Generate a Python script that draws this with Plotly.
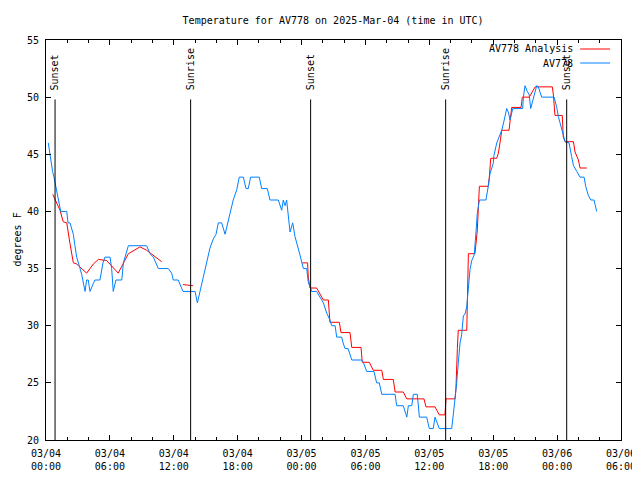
import plotly.graph_objects as go

# Observed AV778 temperature (degrees F)
obs_time = [
    "2025-03-04 00:13", "2025-03-04 00:22", "2025-03-04 00:37", "2025-03-04 00:45", "2025-03-04 01:09",
    "2025-03-04 01:23", "2025-03-04 01:57", "2025-03-04 02:04", "2025-03-04 02:15", "2025-03-04 02:34",
    "2025-03-04 02:43", "2025-03-04 02:53", "2025-03-04 03:12", "2025-03-04 03:21", "2025-03-04 03:40",
    "2025-03-04 03:49", "2025-03-04 03:58", "2025-03-04 04:08", "2025-03-04 04:27", "2025-03-04 04:36",
    "2025-03-04 05:04", "2025-03-04 05:21", "2025-03-04 05:32", "2025-03-04 06:01", "2025-03-04 06:10",
    "2025-03-04 06:19", "2025-03-04 06:34", "2025-03-04 07:07", "2025-03-04 07:16", "2025-03-04 07:35",
    "2025-03-04 07:44", "2025-03-04 09:27", "2025-03-04 09:46", "2025-03-04 10:05", "2025-03-04 10:33",
    "2025-03-04 11:29", "2025-03-04 11:48", "2025-03-04 11:57", "2025-03-04 12:25", "2025-03-04 12:52",
    "2025-03-04 14:00", "2025-03-04 14:13", "2025-03-04 14:28", "2025-03-04 14:46", "2025-03-04 15:05",
    "2025-03-04 15:24", "2025-03-04 15:43", "2025-03-04 15:58", "2025-03-04 16:11", "2025-03-04 16:30",
    "2025-03-04 16:49", "2025-03-04 17:17", "2025-03-04 17:35", "2025-03-04 17:55", "2025-03-04 18:09",
    "2025-03-04 18:32", "2025-03-04 18:47", "2025-03-04 19:00", "2025-03-04 19:13", "2025-03-04 20:02",
    "2025-03-04 20:15", "2025-03-04 20:47", "2025-03-04 21:02", "2025-03-04 21:49", "2025-03-04 22:08",
    "2025-03-04 22:17", "2025-03-04 22:27", "2025-03-04 22:36", "2025-03-04 22:55", "2025-03-04 23:10",
    "2025-03-04 23:23", "2025-03-04 23:51",
    "2025-03-05 00:10", "2025-03-05 00:29", "2025-03-05 00:38", "2025-03-05 00:57", "2025-03-05 01:25",
    "2025-03-05 01:44", "2025-03-05 02:03", "2025-03-05 02:22", "2025-03-05 02:40", "2025-03-05 02:50",
    "2025-03-05 03:09", "2025-03-05 03:18", "2025-03-05 03:46", "2025-03-05 03:54", "2025-03-05 04:05",
    "2025-03-05 04:22", "2025-03-05 04:43", "2025-03-05 05:39", "2025-03-05 05:48", "2025-03-05 06:07",
    "2025-03-05 06:48", "2025-03-05 07:03", "2025-03-05 07:18", "2025-03-05 07:32", "2025-03-05 08:47",
    "2025-03-05 08:56", "2025-03-05 09:33", "2025-03-05 09:53", "2025-03-05 10:02", "2025-03-05 10:21",
    "2025-03-05 10:30", "2025-03-05 10:52", "2025-03-05 11:04", "2025-03-05 11:45", "2025-03-05 12:00",
    "2025-03-05 12:22", "2025-03-05 12:32", "2025-03-05 12:56", "2025-03-05 14:06", "2025-03-05 14:15",
    "2025-03-05 14:25", "2025-03-05 14:34", "2025-03-05 14:43", "2025-03-05 14:53", "2025-03-05 15:02",
    "2025-03-05 15:12", "2025-03-05 15:21", "2025-03-05 15:31", "2025-03-05 15:40", "2025-03-05 15:49",
    "2025-03-05 15:59", "2025-03-05 16:13", "2025-03-05 16:23", "2025-03-05 16:30", "2025-03-05 16:42",
    "2025-03-05 17:19", "2025-03-05 17:32", "2025-03-05 17:42", "2025-03-05 18:00", "2025-03-05 18:04",
    "2025-03-05 18:20", "2025-03-05 18:34", "2025-03-05 18:48", "2025-03-05 19:02", "2025-03-05 19:16",
    "2025-03-05 19:25", "2025-03-05 19:35", "2025-03-05 19:50", "2025-03-05 20:46", "2025-03-05 20:50",
    "2025-03-05 20:59", "2025-03-05 21:12", "2025-03-05 21:23", "2025-03-05 21:31", "2025-03-05 21:42",
    "2025-03-05 21:56", "2025-03-05 22:05", "2025-03-05 22:14", "2025-03-05 22:33", "2025-03-05 23:43",
    "2025-03-05 23:58",
    "2025-03-06 00:07", "2025-03-06 00:20", "2025-03-06 00:31", "2025-03-06 00:45", "2025-03-06 01:07",
    "2025-03-06 01:13", "2025-03-06 01:22", "2025-03-06 01:32", "2025-03-06 01:41", "2025-03-06 01:51",
    "2025-03-06 02:09", "2025-03-06 02:32", "2025-03-06 02:41", "2025-03-06 02:47", "2025-03-06 02:56",
    "2025-03-06 03:10", "2025-03-06 03:28", "2025-03-06 03:34", "2025-03-06 03:43",
]
obs_temp = [
    46, 45, 43.5, 43, 41,
    40, 40, 39, 39, 38,
    37, 36, 35, 34.5, 33,
    34, 34, 33, 33.7, 34,
    34, 35.5, 36, 36, 35,
    33, 34, 34, 35.5, 36.6,
    37, 37, 36.3, 36, 35,
    35, 34.6, 34, 34, 33,
    33, 32, 33, 34.3, 35.5,
    36.8, 37.6, 38, 39, 39,
    38, 39.8, 41, 41.9, 43,
    43, 42, 42, 43, 43,
    42, 42, 41, 41, 40.1,
    41, 40.5, 41, 38.2, 39,
    37.8, 36.2,
    35, 35, 33.8, 33, 33,
    32.5, 32, 31.1, 30.5, 30,
    30, 29, 29, 28.5, 28,
    28, 27, 27, 26.8, 26,
    26, 25, 25, 24, 24,
    23, 23, 22, 23, 23,
    24, 24, 22, 22, 21,
    21, 22, 21, 21, 22.2,
    23.5, 25, 26.7, 28.5, 29.2,
    30.9, 31, 31.7, 33.3, 34.9,
    35.7, 36.2, 38.2, 39.8, 41,
    41, 42.2, 43.3, 44.2, 44.9,
    46, 46.5, 47.1, 48, 49,
    48.7, 48, 49, 49, 50,
    51, 50.5, 50.2, 49, 49.6,
    50.3, 51, 50.9, 50, 50,
    49.1,
    48.3, 47.5, 46.9, 46.1, 46,
    45.4, 44.8, 44, 43.8, 43.5,
    43, 43, 42.2, 41.8, 41.4,
    41, 41, 40.6, 40,
]

# Analysis series (None marks gaps)
ana_time = [
    "2025-03-04 00:38", "2025-03-04 00:51", "2025-03-04 01:08", "2025-03-04 01:19", "2025-03-04 01:37",
    "2025-03-04 01:57", "2025-03-04 02:15", "2025-03-04 02:34", "2025-03-04 02:53", "2025-03-04 03:49",
    "2025-03-04 04:27", "2025-03-04 04:55", "2025-03-04 05:42", "2025-03-04 06:10", "2025-03-04 06:47",
    "2025-03-04 07:44", "2025-03-04 08:50", "2025-03-04 09:27", "2025-03-04 10:14", "2025-03-04 10:52",
    "2025-03-04 11:50",
    "2025-03-04 12:52", "2025-03-04 13:48",
    "2025-03-04 18:00",
    "2025-03-05 00:04", "2025-03-05 00:34", "2025-03-05 00:38", "2025-03-05 00:48", "2025-03-05 01:25",
    "2025-03-05 02:03", "2025-03-05 02:31", "2025-03-05 02:40", "2025-03-05 03:33", "2025-03-05 03:42",
    "2025-03-05 04:33", "2025-03-05 04:43", "2025-03-05 05:35", "2025-03-05 05:42", "2025-03-05 06:22",
    "2025-03-05 06:44", "2025-03-05 07:32", "2025-03-05 07:41", "2025-03-05 08:37", "2025-03-05 08:47",
    "2025-03-05 09:33", "2025-03-05 09:53", "2025-03-05 11:30", "2025-03-05 11:41", "2025-03-05 12:32",
    "2025-03-05 12:56", "2025-03-05 13:28", "2025-03-05 13:34", "2025-03-05 14:25", "2025-03-05 14:30",
    "2025-03-05 14:38", "2025-03-05 14:43", "2025-03-05 15:31", "2025-03-05 15:34", "2025-03-05 15:40",
    "2025-03-05 16:17", "2025-03-05 16:23", "2025-03-05 16:30", "2025-03-05 16:42", "2025-03-05 17:32",
    "2025-03-05 17:38", "2025-03-05 17:46", "2025-03-05 18:20", "2025-03-05 18:29", "2025-03-05 18:38",
    "2025-03-05 18:48", "2025-03-05 19:29", "2025-03-05 19:35", "2025-03-05 19:44", "2025-03-05 20:37",
    "2025-03-05 20:44", "2025-03-05 21:23", "2025-03-05 21:37", "2025-03-05 21:56", "2025-03-05 23:33",
    "2025-03-05 23:39", "2025-03-05 23:48",
    "2025-03-06 00:29", "2025-03-06 00:35", "2025-03-06 00:45", "2025-03-06 01:32", "2025-03-06 01:41",
    "2025-03-06 02:00", "2025-03-06 02:09", "2025-03-06 02:47",
]
ana_temp = [
    41.5, 41, 40.5, 40.1, 39.1,
    39, 37.2, 35.5, 35.4, 34.6,
    35.4, 35.8, 35.7, 35.2, 34.6,
    36.3, 36.9, 36.6, 36.0, 35.6,
    None,
    33.6, 33.5,
    None,
    35.5, 35.5, 34.2, 33.3, 33.3,
    32.25, 32.25, 30.3, 30.3, 29.4,
    29.4, 28.1, 28.1, 26.8, 26.8,
    26.1, 26.1, 25.3, 25.3, 24.2,
    24.2, 23.6, 23.6, 22.9, 22.9,
    22.2, 22.2, 23.6, 23.6, 24.5,
    28.0, 29.6, 29.6, 32.8, 36.3,
    36.3, 37.1, 38.3, 42.2, 42.2,
    43, 44.65, 44.65, 45.1, 46,
    47.1, 47.1, 47.9, 49.1, 49.1,
    50.0, 50.0, 50.4, 50.9, 50.9,
    50.2, 48.4,
    48.4, 46.5, 46.1, 46.1, 45.2,
    44.5, 43.8, 43.8,
]

event_time = ["2025-03-04 00:51", "2025-03-04 13:35", "2025-03-05 00:51",
              "2025-03-05 13:32", "2025-03-06 00:54"]
event_label = ["Sunset", "Sunrise", "Sunset", "Sunrise", "Sunset"]

x_tick_vals = ["2025-03-04 00:00", "2025-03-04 06:00", "2025-03-04 12:00", "2025-03-04 18:00",
               "2025-03-05 00:00", "2025-03-05 06:00", "2025-03-05 12:00", "2025-03-05 18:00",
               "2025-03-06 00:00", "2025-03-06 06:00"]
x_tick_text = ["03/04<br>00:00", "03/04<br>06:00", "03/04<br>12:00", "03/04<br>18:00",
               "03/05<br>00:00", "03/05<br>06:00", "03/05<br>12:00", "03/05<br>18:00",
               "03/06<br>00:00", "03/06<br>06:00"]
y_tick_vals = [20, 25, 30, 35, 40, 45, 50, 55]

series_names = ["AV778 Analysis", "AV778"]
series_colors = ["#ff0000", "#0080ff"]

FONT = "DejaVu Sans Mono"

fig = go.Figure()
fig.add_trace(go.Scatter(x=ana_time, y=ana_temp, mode="lines", name=series_names[0],
                         line=dict(color=series_colors[0], width=1), connectgaps=False))
fig.add_trace(go.Scatter(x=obs_time, y=obs_temp, mode="lines", name=series_names[1],
                         line=dict(color=series_colors[1], width=1)))

shapes = []
annotations = []
for t, lab in zip(event_time, event_label):
    shapes.append(dict(type="line", xref="x", yref="y", x0=t, x1=t, y0=20, y1=49.8,
                       line=dict(color="black", width=1)))
    annotations.append(dict(x=t, y=50.4, xref="x", yref="y", text=lab, textangle=-90,
                            showarrow=False, xanchor="center", yanchor="bottom",
                            font=dict(family=FONT, size=10, color="black")))

# manual legend (text right-aligned, sample line on the right)
leg_y = [0.9775, 0.9425]
for name, col, yy in zip(series_names, series_colors, leg_y):
    annotations.append(dict(x=0.920, y=yy, xref="paper", yref="paper", text=name,
                            showarrow=False, xanchor="right", yanchor="middle",
                            font=dict(family=FONT, size=10, color="black")))
    shapes.append(dict(type="line", xref="paper", yref="paper", x0=0.929, x1=0.981,
                       y0=yy, y1=yy, line=dict(color=col, width=1)))

# y-axis title as a rotated annotation (left edge at the figure's left edge)
annotations.append(dict(x=-37 / 575.0, y=0.5, xref="paper", yref="paper", text="degrees F",
                        textangle=-90, showarrow=False, xanchor="left", yanchor="middle",
                        font=dict(family=FONT, size=10, color="black")))

# page body adds an 8px offset; margins compensate so the plot box sits at 46..621 x 40..440
fig.update_layout(
    width=640, height=480,
    margin=dict(l=38, r=27, t=32, b=48, autoexpand=False),
    paper_bgcolor="white", plot_bgcolor="white",
    font=dict(family=FONT, size=10, color="black"),
    showlegend=False,
    title=dict(text="Temperature for AV778 on 2025-Mar-04 (time in UTC)",
               x=0.508, xanchor="center", y=0.975, yanchor="middle",
               font=dict(family=FONT, size=10, color="black")),
    shapes=shapes, annotations=annotations,
)
fig.update_xaxes(
    type="date", range=["2025-03-04 00:00", "2025-03-06 06:00"], automargin=False,
    tickmode="array", tickvals=x_tick_vals, ticktext=x_tick_text,
    ticks="inside", ticklen=5, tickcolor="black", tickwidth=1, ticklabelstandoff=4,
    showline=True, linecolor="black", linewidth=1, mirror="allticks",
    showgrid=False, zeroline=False,
    tickfont=dict(family=FONT, size=10, color="black"),
    minor=dict(ticks="inside", ticklen=3, tickcolor="black", tickwidth=1,
               dtick=2 * 3600 * 1000, tick0="2025-03-04 00:00", showgrid=False),
)
fig.update_yaxes(
    range=[20, 55], tickmode="array", tickvals=y_tick_vals, automargin=False,
    ticks="inside", ticklen=5, tickcolor="black", tickwidth=1, ticklabelstandoff=4,
    showline=True, linecolor="black", linewidth=1, mirror="allticks",
    showgrid=False, zeroline=False,
    tickfont=dict(family=FONT, size=10, color="black"),
)

fig.write_html("out.html")
